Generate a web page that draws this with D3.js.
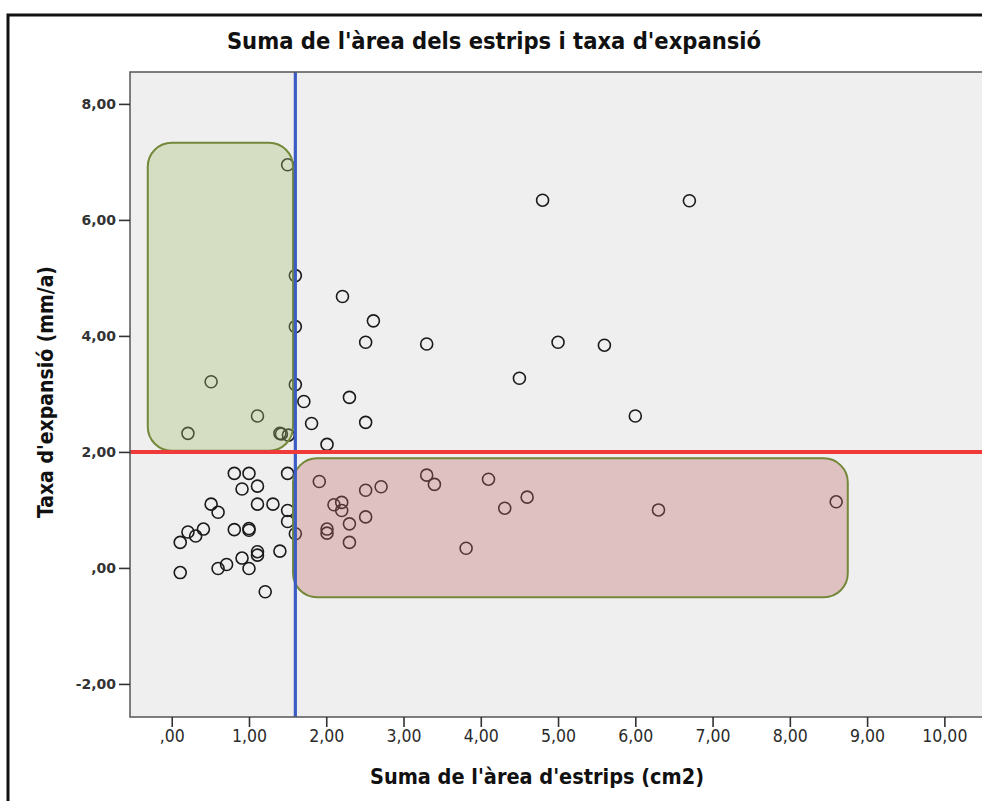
<!DOCTYPE html>
<html>
<head>
<meta charset="utf-8">
<script src="https://cdn.jsdelivr.net/npm/d3@7"></script>
<style>
  body { margin: 0; background: #ffffff; }
  svg { display: block; }
</style>
</head>
<body>
<svg id="chart" width="982" height="801"></svg>
<script>
// Texts
const chartTitle = "Suma de l'àrea dels estrips i taxa d'expansió";
const xTitle = "Suma de l'àrea d'estrips (cm2)";
const yTitle = "Taxa d'expansió (mm/a)";

// Axis ticks
const xTicks = [0, 1, 2, 3, 4, 5, 6, 7, 8, 9, 10];
const xTickLabels = [",00", "1,00", "2,00", "3,00", "4,00", "5,00", "6,00", "7,00", "8,00", "9,00", "10,00"];
const yTicks = [-2, 0, 2, 4, 6, 8];
const yTickLabels = ["-2,00", ",00", "2,00", "4,00", "6,00", "8,00"];

// Observations: summed area of the estrips (cm2) and expansion rate (mm/a)
const areaSum = [
  1.50, 4.80, 6.70, 1.60, 2.21, 2.61, 1.60, 2.51, 3.30, 5.00, 5.60, 0.51, 4.50,
  1.60, 1.71, 2.30, 1.11, 1.81, 2.51, 6.00, 0.21, 1.40, 1.42, 1.51, 2.01,
  0.81, 1.00, 1.50, 0.91, 1.11, 0.51, 0.60, 1.11, 1.31, 1.50, 1.50, 0.21, 0.41,
  0.31, 0.11, 0.81, 1.00, 1.00, 1.60, 1.40, 1.11, 1.11, 0.91, 0.71, 0.60, 1.00,
  0.11, 1.21,
  1.91, 2.51, 2.71, 3.30, 3.40, 4.10, 4.60, 4.31, 2.10, 2.20, 2.20, 2.51, 2.30,
  2.01, 2.01, 2.30, 3.81, 6.30, 8.60
];
const expansionRate = [
  6.95, 6.34, 6.33, 5.04, 4.68, 4.26, 4.16, 3.89, 3.86, 3.89, 3.84, 3.21, 3.27,
  3.16, 2.87, 2.94, 2.62, 2.49, 2.51, 2.62, 2.32, 2.32, 2.31, 2.29, 2.13,
  1.63, 1.63, 1.63, 1.36, 1.41, 1.10, 0.96, 1.10, 1.10, 0.99, 0.80, 0.62, 0.67,
  0.55, 0.44, 0.66, 0.68, 0.65, 0.59, 0.29, 0.28, 0.22, 0.17, 0.06, -0.01, -0.01,
  -0.08, -0.41,
  1.49, 1.34, 1.40, 1.60, 1.44, 1.53, 1.22, 1.03, 1.09, 1.13, 0.99, 0.88, 0.76,
  0.67, 0.60, 0.44, 0.34, 1.00, 1.14
];

// Reference cut-offs
const areaCutoff = 1.6;
const rateCutoff = 2;

// Highlighted regions (data units)
const regionX0 = [-0.31, 1.57];
const regionX1 = [1.57, 8.75];
const regionY0 = [2.02, -0.505];
const regionY1 = [7.33, 1.89];

// Styles
const regionFill = ["#a5c171", "#c36e6e"];
const regionStroke = "#74883a";

// Layout
const plotLeft = 130, plotTop = 72, plotBottom = 717, plotRight = 983;

const svg = d3.select("#chart");

const x = d3.scaleLinear().domain([-0.54, 10.5]).range([plotLeft, plotRight]);
const y = d3.scaleLinear().domain([-2.57, 8.55]).range([plotBottom, plotTop]);

// Outer frame
svg.append("rect")
  .attr("x", 8).attr("y", 15)
  .attr("width", 1000).attr("height", 820)
  .attr("fill", "none")
  .attr("stroke", "#111")
  .attr("stroke-width", 3);

// Plot background
svg.append("rect")
  .attr("x", plotLeft).attr("y", plotTop)
  .attr("width", 1000 - plotLeft).attr("height", plotBottom - plotTop)
  .attr("fill", "#efefef");

const plot = svg.append("g");

// Points
const points = areaSum.map((v, i) => ({ x: v, y: expansionRate[i] }));
plot.selectAll("circle.pt")
  .data(points)
  .join("circle")
  .attr("class", "pt")
  .attr("cx", d => x(d.x))
  .attr("cy", d => y(d.y))
  .attr("r", 6)
  .attr("fill", "none")
  .attr("stroke", "#1a1a1a")
  .attr("stroke-width", 1.6);

// Highlighted regions
const regions = regionX0.map((v, i) => ({ x0: v, x1: regionX1[i], y0: regionY0[i], y1: regionY1[i], i }));
plot.selectAll("rect.region")
  .data(regions)
  .join("rect")
  .attr("class", "region")
  .attr("x", d => x(d.x0))
  .attr("y", d => y(d.y1))
  .attr("width", d => x(d.x1) - x(d.x0))
  .attr("height", d => y(d.y0) - y(d.y1))
  .attr("rx", 24).attr("ry", 24)
  .attr("fill", d => regionFill[d.i])
  .attr("fill-opacity", 0.35)
  .attr("stroke", regionStroke)
  .attr("stroke-width", 2);

// Cut-off lines
plot.append("line")
  .attr("x1", x(areaCutoff)).attr("x2", x(areaCutoff))
  .attr("y1", plotTop).attr("y2", plotBottom)
  .attr("stroke", "#3b5cc4")
  .attr("stroke-width", 3.2);

plot.append("line")
  .attr("x1", plotLeft).attr("x2", 1000)
  .attr("y1", y(rateCutoff)).attr("y2", y(rateCutoff))
  .attr("stroke", "#f03a3a")
  .attr("stroke-width", 4);

// Plot border
svg.append("path")
  .attr("d", `M1000,${plotTop}H${plotLeft}V${plotBottom}H1000`)
  .attr("fill", "none")
  .attr("stroke", "#555")
  .attr("stroke-width", 1.5);

// Axes
const yAxis = d3.axisLeft(y)
  .tickValues(yTicks)
  .tickFormat((d, i) => yTickLabels[i])
  .tickSize(11)
  .tickPadding(3);
const gy = svg.append("g").attr("transform", `translate(${plotLeft},0)`).call(yAxis);
gy.select(".domain").remove();
gy.selectAll(".tick line").attr("stroke", "#333").attr("stroke-width", 1.6);
gy.selectAll(".tick text")
  .attr("fill", "#333")
  .style("font-family", "'DejaVu Sans', Verdana, sans-serif")
  .style("font-weight", "bold")
  .style("font-size", "14px");

const xAxis = d3.axisBottom(x)
  .tickValues(xTicks)
  .tickFormat((d, i) => xTickLabels[i])
  .tickSize(10)
  .tickPadding(3);
const gx = svg.append("g").attr("transform", `translate(0,${plotBottom})`).call(xAxis);
gx.select(".domain").remove();
gx.selectAll(".tick line").attr("stroke", "#333").attr("stroke-width", 1.6);
gx.selectAll(".tick text")
  .attr("fill", "#2a2a2a")
  .style("font-family", "'DejaVu Sans Condensed', 'DejaVu Sans', sans-serif")
  .style("font-size", "17.5px");

// Titles
svg.append("text")
  .attr("x", 494).attr("y", 49)
  .attr("text-anchor", "middle")
  .style("font-family", "'DejaVu Sans Condensed', 'DejaVu Sans', sans-serif")
  .style("font-weight", "bold")
  .style("font-size", "23.5px")
  .attr("fill", "#111")
  .text(chartTitle);

svg.append("text")
  .attr("x", 537).attr("y", 784)
  .attr("text-anchor", "middle")
  .style("font-family", "'DejaVu Sans Condensed', 'DejaVu Sans', sans-serif")
  .style("font-weight", "bold")
  .style("font-size", "21.5px")
  .attr("fill", "#111")
  .text(xTitle);

svg.append("text")
  .attr("transform", "translate(53,392) rotate(-90)")
  .attr("text-anchor", "middle")
  .style("font-family", "'DejaVu Sans Condensed', 'DejaVu Sans', sans-serif")
  .style("font-weight", "bold")
  .style("font-size", "21px")
  .attr("fill", "#111")
  .text(yTitle);
</script>
</body>
</html>
